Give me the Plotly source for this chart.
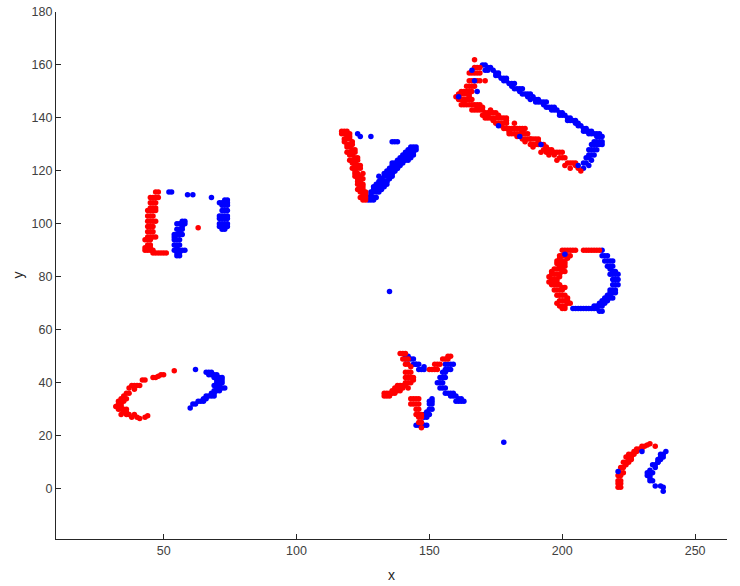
import plotly.graph_objects as go

# rectangle
rect_red_x = [167,167,168,169,165,166,167,168,169,165,166,167,168,169,171,164,165,166,167,162,163,164,165,166,161,162,163,164,165,161,162,163,164,165,166,162,163,164,165,166,167,168,169,166,167,168,169,170,171,172,173,174,175,171,172,173,174,175,176,177,178,179,175,176,177,178,179,178,179,180,181,182,183,184,185,186,180,181,182,183,184,185,186,187,185,186,187,188,189,190,191,188,189,190,191,192,193,193,194,195,196,194,195,196,197,198,199,200,199,200,201,202,203,204,205,206,207,163,165,168,170,172,174,177,180,183,186,189,192,195,198,201,203,205,161,160,170,173,176,179,182,185,188,191,194,197]
rect_red_y = [162,159,159,159,157,157,157,157,157,154,154,154,154,154,154,152,152,152,152,150,150,150,150,150,149,149,149,149,149,147,147,147,147,147,147,145,145,145,145,145,145,145,145,143,143,143,143,143,142,142,142,142,142,140,140,140,140,140,140,140,140,140,138,138,138,138,138,136,136,136,136,136,136,136,136,136,134,134,134,134,134,134,134,134,132,132,132,132,132,132,132,130,130,130,130,130,130,128,128,128,128,127,127,127,127,127,127,127,125,125,125,123,123,123,123,121,120,146,148,144,141,141,139,137,135,133,131,129,127,126,124,122,121,122,148,148,144,143,141,139,138,135,132,131,129,126]
rect_blue_x = [170,171,172,173,171,172,174,175,176,175,176,177,178,179,178,179,180,181,182,181,182,183,184,185,184,185,186,187,188,187,188,189,190,191,190,191,192,193,194,193,194,195,196,197,196,197,198,199,200,199,200,201,202,203,202,203,204,205,206,205,206,207,208,209,208,209,210,211,210,211,212,213,214,213,214,215,212,213,214,215,211,212,213,214,215,210,211,212,213,210,211,212,209,210,211,208,209,210,208]
rect_blue_y = [160,160,159,159,158,158,158,157,157,156,156,155,155,155,154,154,153,153,153,152,151,151,151,151,150,149,149,149,149,148,147,148,147,147,146,146,146,146,146,145,144,144,144,144,143,143,143,142,142,141,141,141,140,140,139,139,139,139,138,138,137,137,136,136,135,135,135,135,134,134,134,134,134,133,133,133,131,131,131,131,130,130,130,130,130,128,128,128,128,126,126,126,125,125,124,123,123,122,121]
# V
v_red_x = [117,118,119,120,117,118,119,120,118,119,120,121,118,119,120,121,119,120,121,122,119,120,121,122,120,121,122,123,120,121,122,123,121,122,123,124,121,122,123,124,122,123,124,125,122,123,124,125,123,124,125,123,124,125,123,124,125,126,124,125,126,124,125,126,125,126]
v_red_y = [135,135,135,134,134,134,133,133,132,132,132,131,131,130,130,130,129,129,128,128,127,127,127,127,126,126,125,125,124,124,123,124,123,122,122,122,121,120,121,121,119,119,118,119,118,117,117,117,116,116,115,115,114,114,113,113,113,112,112,111,111,110,110,110,109,109]
v_blue_x = [127,128,129,127,128,129,128,129,130,131,129,130,131,132,129,130,131,132,133,130,131,132,133,134,131,132,133,134,133,134,135,136,133,134,135,136,134,135,136,137,135,136,137,138,136,137,138,139,136,137,138,139,140,138,139,140,141,142,139,140,141,142,143,140,141,142,143,144,141,142,143,144,142,143,144,145,143,144,132,135,137,139,131,134,136,138,145,128,130]
v_blue_y = [109,109,109,110,110,110,112,112,112,112,113,113,113,113,114,114,114,114,114,115,115,115,115,115,116,116,116,116,118,118,118,118,119,119,119,119,120,120,120,120,121,121,121,121,122,122,122,122,123,123,123,123,123,124,124,124,124,124,125,125,125,125,125,126,126,126,126,126,127,127,127,127,128,128,128,128,129,129,117,117,120,123,118,116,119,121,129,111,110]
v_blue_extra_x = [123,124,128,136,137,138]
v_blue_extra_y = [134,133,133,131,131,131]
# left square
sq_red_x = [47,48,45,46,47,48,45,46,47,45,46,47,44,45,46,47,44,45,46,44,45,46,47,44,45,46,44,45,46,44,45,46,47,43,44,45,44,45,43,44,45,43,44,45,46,46,47,48,49,50,51,63]
sq_red_y = [112,112,110,110,110,110,108,108,108,106,106,106,105,105,105,105,103,103,103,101,101,101,101,99,99,99,97,97,97,95,95,95,95,94,94,94,92,92,91,91,91,90,90,90,90,89,89,89,89,89,89,98.5]
sq_blue_x = [52,53,59,61,68,73,74,71,72,73,74,72,73,74,71,72,73,74,71,72,73,74,71,72,73,74,72,73,57,58,55,56,57,58,55,56,57,54,55,56,57,54,55,56,54,55,56,54,55,56,57,58,55,56,55,56,72,73,74,71,72,73,74,57,56,54,55]
sq_blue_y = [112,112,111,111,110,109,109,108,108,108,108,105,105,105,103,103,103,103,100,100,100,100,99,99,99,99,98,98,101,101,100,100,100,100,98,98,98,96,96,96,96,94,94,94,92,92,92,90,90,90,90,90,89,89,88,88,107,107,107,102,102,102,102,99,97,95,91]
# hexagon
hex_red_x = [200,201,202,203,204,205,208,209,210,211,212,213,214,199,200,201,202,203,198,199,200,201,198,199,200,201,197,198,199,200,196,197,198,199,196,197,198,196,197,198,199,197,198,199,200,198,199,200,199,200,201,202,199,200,201,200,201,199,202,200,199,201,196,200,201,199,195,195,198,200,201,202,196,197,201,202,203,198]
hex_red_y = [90,90,90,90,90,90,90,90,90,90,90,90,90,88,88,88,88,88,86,86,86,86,85,85,85,85,83,83,83,83,81,81,81,81,79,79,79,77,77,77,77,75,75,75,75,73,73,73,71,71,71,71,69,69,69,68,68,87,87,84,84,84,82,82,82,80,80,78,78,76,76,72,78,78,73,70,70,70]
hex_blue_x = [215,215,216,217,216,217,218,218,219,219,220,218,219,220,221,219,220,221,219,220,221,218,219,220,218,219,220,217,218,216,217,218,215,216,217,214,215,216,212,213,214,215,211,212,213,206,207,208,209,210,204,205,200,217,218,219,214,215,219]
hex_blue_y = [90,88,88,88,86,86,86,84,84,82,82,81,81,81,81,79,79,79,77,77,77,75,75,75,74,74,74,73,73,72,72,72,71,71,71,70,70,70,69,69,69,69,68,68,68,68,68,68,68,68,68,68,88,84,83,86,67,67,72]
# star
star_red_x = [139,140,141,140,141,142,141,142,141,142,143,141,142,143,144,141,142,143,138,139,140,141,136,137,138,139,133,134,135,136,137,133,134,157,158,155,156,157,152,153,154,150,151,152,153,144,145,146,144,145,146,145,146,145,146,147,146,147,146,147,147,143,143,143,144,142,140,135,137,139]
star_red_y = [51,51,51,49,49,49,47,47,44,44,44,42,42,42,42,40,40,40,39,39,39,39,37,37,37,37,36,36,36,36,36,35,35,50,50,49,49,49,47,47,47,45,45,45,45,34,34,34,32,32,32,30,30,28,28,28,27,27,25,25,23,34,32,46,41,38,38,35,38,38]
star_blue_x = [141,142,141,142,143,144,144,145,146,146,147,148,156,157,158,159,156,157,158,155,156,154,155,156,153,154,155,154,155,156,156,157,158,159,158,159,160,161,162,160,161,162,163,151,150,151,150,151,148,149,150,148,149,146,147,148,149,145,148,150,151,149,145,147]
star_blue_y = [50,50,49,49,49,49,47,47,47,45,45,45,47,47,47,47,45,45,45,44,44,42,42,42,40,40,40,38,38,38,36,36,36,36,35,35,35,34,34,33,33,33,33,34,32,32,30,30,28,28,28,27,27,24,24,24,24,47,46,33,33,29,24,25]
# ellipse
ell_red_x = [54,50,49,48,47,46,43,42,41,40,39,38,39,37,36,37,35,36,34,35,33,34,33,32,34,35,33,35,36,34,36,37,38,40,41,43,44,39,33,34,36]
ell_red_y = [44.5,43,43,42.5,42,42,41,41,39,39,39,39,37.5,38,36,36,35,34,34,33,33,32,31,31,31,30,30,29,29,28,28,28,27,27,26.5,27,27.5,28,32,30,30]
ell_blue_x = [62,66,67,68,69,70,67,68,69,70,71,70,71,72,70,71,72,69,70,71,70,71,72,73,70,68,69,67,68,66,65,64,63,62,61,60,71,69,72,69,66,65]
ell_blue_y = [45,44,44,43,43,43,43,44,42,42,42,41,41,41,40,40,40,39,39,39,38,38,38,38,37,36,36,35,35,34,34,33,33,32,32,30.5,37,37,42,35,35,33]
# crescent
moon_red_x = [235,233,232,229,230,228,227,225,226,227,224,225,226,223,224,225,222,223,224,222,223,221,222,221,222,221,222,221,222,228,226,231,230]
moon_red_y = [16,17,16.5,15,15,14,14,13,13,13,12,11,11,10,10,10,8,8,9,6,6,5,5,3,3,2,2,0.5,0.5,15,12,16,16]
moon_blue_x = [239,238,237,238,236,237,235,236,234,235,233,234,233,232,234,233,235,237,238,238,232,233,236,237]
moon_blue_y = [14,13,12,12,11,11,9,10,9,8,7,6,5,5,3,3,1,1,0.5,-1,6,4,10,13]
blue_over_x = [221,230,201,166,167,161,176,168,184,192,206]
blue_over_y = [6.5,14,88.5,158,154,148,137,150,133,130,122]
# lone points
lone_blue_x = [135,178]
lone_blue_y = [74.5,17.5]

red_x = rect_red_x + v_red_x + sq_red_x + hex_red_x + star_red_x + ell_red_x + moon_red_x
red_y = rect_red_y + v_red_y + sq_red_y + hex_red_y + star_red_y + ell_red_y + moon_red_y
blue_x = rect_blue_x + v_blue_x + v_blue_extra_x + sq_blue_x + hex_blue_x + star_blue_x + ell_blue_x + moon_blue_x + lone_blue_x
blue_y = rect_blue_y + v_blue_y + v_blue_extra_y + sq_blue_y + hex_blue_y + star_blue_y + ell_blue_y + moon_blue_y + lone_blue_y

x_ticks = [50, 100, 150, 200, 250]
y_ticks = [0, 20, 40, 60, 80, 100, 120, 140, 160, 180]
RED, BLUE = "#ff0000", "#0000ff"


def dots(x, y, color):
    return go.Scatter(x=x, y=y, mode="markers", showlegend=False, hoverinfo="skip", cliponaxis=False,
                      marker=dict(color=color, size=5.5, line=dict(width=0)))


fig = go.Figure([dots(blue_x, blue_y, BLUE), dots(red_x, red_y, RED), dots(blue_over_x, blue_over_y, BLUE)])

axis_style = dict(showgrid=False, zeroline=False, showline=True, linecolor="#262626", linewidth=1.2,
                  ticks="inside", ticklen=5, tickwidth=1, tickcolor="#262626", automargin=False,
                  tickfont=dict(family="Liberation Sans", size=12.5, color="#404040"),
                  mirror=False)
title_font = dict(family="Liberation Sans", size=14, color="#262626")
fig.update_layout(
    width=740, height=586, margin=dict(l=56, r=13, t=12, b=47, pad=0),
    autosize=False, paper_bgcolor="white", plot_bgcolor="white",
    xaxis=dict(range=[9.5, 262], tickvals=x_ticks, ticktext=[str(v) for v in x_ticks], **axis_style),
    yaxis=dict(range=[-19, 180], tickvals=y_ticks, ticktext=[str(v) for v in y_ticks], **axis_style),
    annotations=[
        dict(text="x", xref="paper", yref="paper", x=0.5, y=0, yshift=-36, yanchor="middle",
             showarrow=False, font=title_font),
        dict(text="y", xref="paper", yref="paper", x=0, y=0.5, xshift=-39, xanchor="center",
             textangle=-90, showarrow=False, font=title_font),
    ],
)
fig.write_html("out.html", post_script="document.body.style.margin='0';", config={"displayModeBar": False})
